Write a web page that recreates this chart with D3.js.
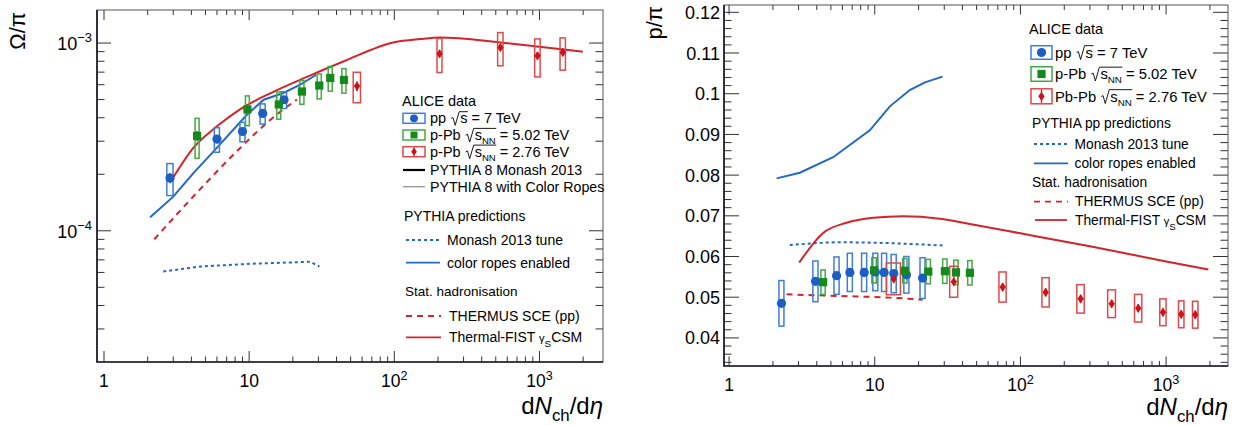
<!DOCTYPE html>
<html>
<head>
<meta charset="utf-8">
<script src="https://cdn.jsdelivr.net/npm/d3@7"></script>
<style>
  html, body { margin: 0; padding: 0; background: #fff; }
  svg { display: block; font-family: "Liberation Sans", Arial, Helvetica, sans-serif; }
  svg text { white-space: pre; }
</style>
</head>
<body>
<svg id="chart" width="1242" height="425"></svg>
<script>
// ---------------- Ω/π versus dNch/dη ----------------
const omPP_dN    = [2.85, 6.0, 9.0, 12.4, 17.4];
const omPP_dNerr = [0.14, 0.24, 0.36, 0.5, 0.7];
const omPP_val   = [1.91e-4, 3.08e-4, 3.38e-4, 4.22e-4, 4.99e-4];
const omPP_stat  = [0.12e-4, 0.15e-4, 0.15e-4, 0.18e-4, 0.2e-4];
const omPP_sys   = [0.37e-4, 0.46e-4, 0.40e-4, 0.52e-4, 0.51e-4];

const omPPb_dN    = [4.38, 9.73, 16.0, 23.1, 30.4, 36.2, 45.0];
const omPPb_dNerr = [0.14, 0.3, 0.5, 0.75, 1.0, 1.15, 1.45];
const omPPb_val   = [3.2e-4, 4.43e-4, 4.71e-4, 5.52e-4, 5.94e-4, 6.52e-4, 6.36e-4];
const omPPb_stat  = [0.2e-4, 0.2e-4, 0.2e-4, 0.2e-4, 0.22e-4, 0.25e-4, 0.25e-4];
const omPPb_sys   = [0.77e-4, 0.8e-4, 0.78e-4, 0.8e-4, 0.9e-4, 0.98e-4, 0.95e-4];

const omPbPb_dN    = [55.3, 205, 538, 969, 1448];
const omPbPb_dNerr = [3.2, 8, 23, 42, 62];
const omPbPb_val   = [5.9e-4, 8.77e-4, 9.47e-4, 8.56e-4, 8.91e-4];
const omPbPb_stat  = [0.35e-4, 0.4e-4, 0.4e-4, 0.4e-4, 0.4e-4];
const omPbPb_sys   = [1.09e-4, 1.8e-4, 1.9e-4, 1.96e-4, 1.74e-4];

const omFist_dN  = [2.97, 4.1, 6.0, 8.7, 14.7, 25, 45, 100, 150, 207, 538, 960, 1990];
const omFist_val = [1.9e-4, 2.75e-4, 3.6e-4, 4.45e-4, 5.5e-4, 6.6e-4, 8.0e-4, 1.01e-3, 1.05e-3, 1.07e-3, 1.007e-3, 9.6e-4, 9.0e-4];
const omRopes_dN  = [2.08, 3.0, 4.13, 5.67, 9.64, 12.6, 17.2, 22.5, 29.0];
const omRopes_val = [1.18e-4, 1.52e-4, 2.03e-4, 2.64e-4, 4.15e-4, 4.99e-4, 5.42e-4, 6.0e-4, 6.78e-4];
const omMonash_dN  = [2.56, 4.59, 10.2, 22.5, 26.3, 30.5];
const omMonash_val = [6.07e-5, 6.45e-5, 6.67e-5, 6.81e-5, 6.84e-5, 6.45e-5];
const omThermus_dN  = [2.22, 3.92, 8.67, 14.0, 21.3];
const omThermus_val = [9.0e-5, 1.46e-4, 2.76e-4, 3.9e-4, 5.0e-4];

// ---------------- p/π versus dNch/dη ----------------
const prPP_dN    = [2.29, 3.92, 5.47, 6.75, 8.46, 10.1, 11.6, 13.5, 16.5, 21.3];
const prPP_dNerr = [0.09, 0.16, 0.22, 0.27, 0.34, 0.4, 0.46, 0.54, 0.66, 0.85];
const prPP_val   = [0.0485, 0.0539, 0.0553, 0.0561, 0.0561, 0.0562, 0.0561, 0.0558, 0.0555, 0.0547];
const prPP_stat  = [0.0006, 0.0004, 0.0003, 0.0003, 0.0003, 0.0003, 0.0003, 0.0003, 0.0003, 0.0004];
const prPP_sys   = [0.0056, 0.005, 0.0046, 0.0047, 0.0047, 0.0046, 0.0047, 0.0047, 0.0045, 0.005];

const prPPb_dN    = [4.42, 9.9, 16.1, 23.3, 30.3, 36.1, 45.0];
const prPPb_dNerr = [0.15, 0.35, 0.55, 0.8, 1.05, 1.25, 1.55];
const prPPb_val   = [0.0537, 0.0566, 0.0565, 0.0563, 0.0564, 0.0561, 0.0560];
const prPPb_stat  = [0.0008, 0.0008, 0.0008, 0.0008, 0.0008, 0.0008, 0.0008];
const prPPb_sys   = [0.003, 0.0031, 0.003, 0.003, 0.003, 0.003, 0.003];

const prPbPb_dN    = [13.5, 34.9, 75.5, 149, 259, 423, 644, 952, 1271, 1586];
const prPbPb_dNerr = [1.5, 2.2, 4.3, 8.5, 15, 26, 37, 47, 55, 68];
const prPbPb_val   = [0.0545, 0.0538, 0.0525, 0.0512, 0.0496, 0.0484, 0.0473, 0.0463, 0.0458, 0.0457];
const prPbPb_stat  = [0.001, 0.001, 0.001, 0.001, 0.001, 0.001, 0.001, 0.001, 0.001, 0.001];
const prPbPb_sys   = [0.0039, 0.0038, 0.0037, 0.0036, 0.0035, 0.0034, 0.0034, 0.0033, 0.0033, 0.0033];

const prFist_dN  = [3.03, 4.42, 6.4, 9.75, 15.7, 28, 45, 100, 300, 1000, 1950];
const prFist_val = [0.0585, 0.0658, 0.0683, 0.0695, 0.0699, 0.0693, 0.0680, 0.0657, 0.0625, 0.0588, 0.0568];
const prRopes_dN  = [2.12, 3.06, 5.18, 9.25, 12.7, 17.4, 22.1, 29.2];
const prRopes_val = [0.0792, 0.0806, 0.0844, 0.0910, 0.0969, 0.1009, 0.1028, 0.1042];
const prMonash_dN  = [2.61, 5.76, 9.75, 29.5];
const prMonash_val = [0.0628, 0.0635, 0.0634, 0.0627];
const prThermus_dN  = [2.48, 5.76, 12.7, 21.3];
const prThermus_val = [0.0507, 0.0503, 0.0499, 0.0494];

// ---------------- axes ----------------
const xMajor = [1, 10, 100, 1000];
const xMajorLabels = [["1", ""], ["10", ""], ["10", "2"], ["10", "3"]];
const omYMajor = [1e-4, 1e-3];
const omYMajorLabels = [["10", "\u22124"], ["10", "\u22123"]];
const prYMajor = [0.04, 0.05, 0.06, 0.07, 0.08, 0.09, 0.10, 0.11, 0.12];
const prYMajorLabels = ["0.04", "0.05", "0.06", "0.07", "0.08", "0.09", "0.1", "0.11", "0.12"];

// ---------------- colours ----------------
const C = {
  blue: "#1c5ec2", blueBox: "#3f7fd3", blueLine: "#2268c8",
  green: "#14891c", greenBox: "#45a845",
  red: "#c9141d", redBox: "#de4a4a", redLine: "#d3232b"
};

const svg = d3.select("#chart");

// Scales for the two panels
const xL = d3.scaleLog().domain([0.895, 2740]).range([97, 603]);
const yL = d3.scaleLog().domain([2e-5, 1.5e-3]).range([362, 10]);
const xR = d3.scaleLog().domain([0.923, 2660]).range([724, 1228]);
const yR = d3.scaleLinear().domain([0.0331, 0.1218]).range([366, 5]);

// Text made of pieces: sub/superscripts, italics and a drawn radical sign
function richText(parent, x, y, parts, o = {}) {
  const size = o.size || 14, fill = o.fill || "#000";
  const g = parent.append("g");
  const inner = g.append("g");
  let cx = x;
  const placed = [];
  for (const p of parts) {
    if (p.gap) { placed.push({ x0: cx, x1: cx + p.gap, p }); cx += p.gap; continue; }
    const fs = p.scale ? size * p.scale : size;
    const t = inner.append("text")
      .attr("x", cx).attr("y", y + (p.dy || 0) * size)
      .attr("font-size", fs).attr("fill", fill)
      .attr("font-style", p.italic ? "italic" : null)
      .text(p.t);
    const w = t.node().getComputedTextLength();
    placed.push({ x0: cx, x1: cx + w, p });
    cx += w + (p.after || 0);
  }
  const rad = placed.find(d => d.p.rad);
  const rooted = placed.filter(d => d.p.root);
  if (rad && rooted.length) {
    const xe = d3.max(rooted, d => d.x1) + 0.5;
    const top = y - size * 0.8;
    inner.append("path")
      .attr("d", `M${rad.x0 + 1},${y - size * 0.33} L${rad.x0 + 2.8},${y - size * 0.4} L${rad.x0 + 5},${y + 2} L${rad.x1 - 1},${top} L${xe},${top}`)
      .attr("fill", "none").attr("stroke", fill).attr("stroke-width", 0.9);
  }
  const w = cx - x;
  if (o.anchor === "end") inner.attr("transform", `translate(${-w},0)`);
  if (o.anchor === "middle") inner.attr("transform", `translate(${-w / 2},0)`);
  return g;
}

function sup(base, exp, expScale = 0.72) {
  return exp ? [{ t: base }, { t: exp, scale: expScale, dy: -0.42 }] : [{ t: base }];
}

// Frame with inward ticks on all four sides
function drawFrame(X, Y, o) {
  const g = svg.append("g");
  const [x0, x1] = X.range();
  const [yb, yt] = Y.range();
  const tick = (x1_, y1_, x2_, y2_) => g.append("line")
    .attr("x1", x1_).attr("y1", y1_).attr("x2", x2_).attr("y2", y2_)
    .attr("stroke", "#333").attr("stroke-width", 1);
  o.xTicks.forEach(t => {
    const px = X(t.v);
    if (px <= x0 + 1 || px >= x1 - 1) return;
    tick(px, yb, px, yb - (t.major ? o.xMaj : o.xMin));
    tick(px, yt, px, yt + (t.major ? o.xMajTop : o.xMinTop));
  });
  o.yTicks.forEach(t => {
    const py = Y(t.v);
    if (py >= yb - 1 || py <= yt + 1) return;
    tick(x0, py, x0 + (t.major ? o.yMaj : o.yMin), py);
    tick(x1, py, x1 - (t.major ? o.yMaj : o.yMin), py);
  });
  g.append("rect").attr("x", x0).attr("y", yt).attr("width", x1 - x0).attr("height", yb - yt)
    .attr("fill", "none").attr("stroke", "#555").attr("stroke-width", 1);
  g.append("path").attr("d", `M${x0},${yt} V${yb} H${x1}`)
    .attr("fill", "none").attr("stroke", "#1d1d2b").attr("stroke-width", 1.7);
  return g;
}

function logTicks(lo, hi) {
  const out = [];
  for (let k = Math.floor(Math.log10(lo)); k <= Math.ceil(Math.log10(hi)); k++) {
    for (let m = 1; m <= 9; m++) {
      const v = m * Math.pow(10, k);
      if (v >= lo && v <= hi) out.push({ v, major: m === 1 });
    }
  }
  return out;
}

function clipFor(id, X, Y) {
  const [x0, x1] = X.range(), [yb, yt] = Y.range();
  svg.append("clipPath").attr("id", id).append("rect")
    .attr("x", x0).attr("y", yt).attr("width", x1 - x0).attr("height", yb - yt);
  return svg.append("g").attr("clip-path", `url(#${id})`);
}

function drawCurve(g, X, Y, xs, ys, color, dash, curve, width = 2) {
  const pts = xs.map((x, i) => [x, ys[i]]);
  g.append("path")
    .attr("d", d3.line().x(d => X(d[0])).y(d => Y(d[1])).curve(curve)(pts))
    .attr("fill", "none").attr("stroke", color).attr("stroke-width", width)
    .attr("stroke-dasharray", dash);
}

function drawMarker(g, type, cx, cy, color, s = 1) {
  if (type === "circle") {
    g.append("circle").attr("cx", cx).attr("cy", cy).attr("r", 4.6 * s).attr("fill", color);
  } else if (type === "square") {
    const h = 4.1 * s;
    g.append("rect").attr("x", cx - h).attr("y", cy - h).attr("width", 2 * h).attr("height", 2 * h).attr("fill", color);
  } else {
    const w = 3.2 * s, h = 4.6 * s;
    g.append("path").attr("d", `M${cx},${cy - h} L${cx + w},${cy} L${cx},${cy + h} L${cx - w},${cy} Z`).attr("fill", color);
  }
}

function drawSeries(gBox, gMark, X, Y, dn, dnErr, val, stat, sys, boxColor, color, marker) {
  dn.forEach((x, i) => {
    const xa = X(x - dnErr[i]), xb = X(x + dnErr[i]);
    const ya = Y(val[i] + sys[i]), yb = Y(val[i] - sys[i]);
    gBox.append("rect").attr("x", xa).attr("y", ya).attr("width", xb - xa).attr("height", yb - ya)
      .attr("fill", "none").attr("stroke", boxColor).attr("stroke-width", 1.5);
  });
  dn.forEach((x, i) => {
    gMark.append("line").attr("x1", X(x)).attr("x2", X(x))
      .attr("y1", Y(val[i] - stat[i])).attr("y2", Y(val[i] + stat[i]))
      .attr("stroke", color).attr("stroke-width", 1.6);
    drawMarker(gMark, marker, X(x), Y(val[i]), color);
  });
}

const dNdEtaTitle = [{ t: "d" }, { t: "N", italic: true }, { t: "ch", scale: 0.7, dy: 0.3 }, { t: "/d" }, { t: "\u03B7", italic: true }];

// ================= left panel: Ω/π =================
drawFrame(xL, yL, {
  xTicks: logTicks(1, 3000), yTicks: logTicks(2e-5, 1.5e-3),
  xMaj: 11, xMin: 5.5, xMajTop: 10, xMinTop: 5, yMaj: 14, yMin: 7.5
});
const gL = clipFor("clipL", xL, yL);
drawCurve(gL, xL, yL, omMonash_dN, omMonash_val, C.blueLine, "3,3", d3.curveLinear);
drawCurve(gL, xL, yL, omRopes_dN, omRopes_val, C.blueLine, null, d3.curveLinear);
drawCurve(gL, xL, yL, omThermus_dN, omThermus_val, C.redLine, "6,5", d3.curveMonotoneX);
drawCurve(gL, xL, yL, omFist_dN, omFist_val, C.redLine, null, d3.curveMonotoneX);
const gLbox = gL.append("g"), gLmark = gL.append("g");
drawSeries(gLbox, gLmark, xL, yL, omPP_dN, omPP_dNerr, omPP_val, omPP_stat, omPP_sys, C.blueBox, C.blue, "circle");
drawSeries(gLbox, gLmark, xL, yL, omPPb_dN, omPPb_dNerr, omPPb_val, omPPb_stat, omPPb_sys, C.greenBox, C.green, "square");
drawSeries(gLbox, gLmark, xL, yL, omPbPb_dN, omPbPb_dNerr, omPbPb_val, omPbPb_stat, omPbPb_sys, C.redBox, C.red, "diamond");

// tick labels
xMajor.forEach((v, i) => richText(svg, xL(v), 387, sup(...xMajorLabels[i]), { size: 17.5, anchor: "middle" }));
omYMajor.forEach((v, i) => richText(svg, 92, yL(v) + 7, sup(...omYMajorLabels[i]), { size: 18, anchor: "end" }));

// axis titles
richText(svg.append("g").attr("transform", "translate(25,12) rotate(-90)"), 0, 0,
  [{ t: "\u03A9/\u03C0" }], { size: 22, anchor: "end" });
richText(svg, 603, 414, dNdEtaTitle, { size: 24, anchor: "end" });

// legend
function legendBox(g, x, y, w, h, boxColor, color, marker, s) {
  g.append("rect").attr("x", x).attr("y", y - h / 2).attr("width", w).attr("height", h)
    .attr("fill", "none").attr("stroke", boxColor).attr("stroke-width", 1.5);
  if (marker === "diamond") {
    g.append("line").attr("x1", x + w / 2).attr("x2", x + w / 2).attr("y1", y - h / 2 + 1).attr("y2", y + h / 2 - 1)
      .attr("stroke", color).attr("stroke-width", 1.4);
  }
  drawMarker(g, marker, x + w / 2, y, color, s);
}
function legendLine(g, x1, x2, y, color, dash, width = 1.8) {
  g.append("line").attr("x1", x1).attr("x2", x2).attr("y1", y).attr("y2", y)
    .attr("stroke", color).attr("stroke-width", width).attr("stroke-dasharray", dash);
}
const ppLabel = [{ t: "pp " }, { gap: 10, rad: true }, { t: "s", root: true }, { t: " = 7 TeV" }];
const sqrtNN = [{ gap: 10, rad: true }, { t: "s", root: true }, { t: "NN", scale: 0.66, dy: 0.3, root: true }];

const lg = svg.append("g");
richText(lg, 402, 106, [{ t: "ALICE data" }], { size: 14.5 });
legendBox(lg, 403, 118.3, 22, 10, C.blueBox, C.blue, "circle", 0.85);
richText(lg, 430, 123.3, ppLabel, { size: 14.5 });
legendBox(lg, 403, 135, 22, 10, C.greenBox, C.green, "square", 0.85);
richText(lg, 430, 140, [{ t: "p-Pb " }, ...sqrtNN, { t: " = 5.02 TeV" }], { size: 14.5 });
legendBox(lg, 403, 151.7, 22, 10, C.redBox, C.red, "diamond", 0.9);
richText(lg, 430, 156.7, [{ t: "p-Pb " }, ...sqrtNN, { t: " = 2.76 TeV" }], { size: 14.5 });
legendLine(lg, 403, 425, 170, "#000", null, 2.2);
richText(lg, 430, 175, [{ t: "PYTHIA 8 Monash 2013" }], { size: 14.2 });
legendLine(lg, 403, 425, 186.7, "#8a8a8a", null, 1.2);
richText(lg, 430, 191.7, [{ t: "PYTHIA 8 with Color Ropes" }], { size: 14.2 });

richText(lg, 404, 221, [{ t: "PYTHIA predictions" }], { size: 14 });
legendLine(lg, 406, 440, 240, C.blueLine, "3,3");
richText(lg, 447, 245, [{ t: "Monash 2013 tune" }], { size: 14 });
legendLine(lg, 406, 440, 262.7, C.blueLine, null);
richText(lg, 447, 267.7, [{ t: "color ropes enabled" }], { size: 14 });
richText(lg, 405, 295.5, [{ t: "Stat. hadronisation" }], { size: 13.5 });
legendLine(lg, 406, 441, 316, C.redLine, "6,5");
richText(lg, 449, 321, [{ t: "THERMUS SCE (pp)" }], { size: 14 });
legendLine(lg, 406, 441, 337.3, C.redLine, null);
richText(lg, 449, 342, [{ t: "Thermal-FIST " }, { t: "\u03B3", scale: 0.8 }, { t: "S", scale: 0.7, dy: 0.35 }, { t: "CSM" }], { size: 14 });

// ================= right panel: p/π =================
const prYTicks = d3.range(34, 122 + 1, 2).map(k => ({ v: k / 1000, major: k % 10 === 0 }));
drawFrame(xR, yR, {
  xTicks: logTicks(1, 3000), yTicks: prYTicks,
  xMaj: 9.5, xMin: 5, xMajTop: 9.5, xMinTop: 5, yMaj: 15, yMin: 7.5
});
const gR = clipFor("clipR", xR, yR);
drawCurve(gR, xR, yR, prRopes_dN, prRopes_val, C.blueLine, null, d3.curveLinear);
drawCurve(gR, xR, yR, prMonash_dN, prMonash_val, C.blueLine, "3,3", d3.curveMonotoneX);
drawCurve(gR, xR, yR, prThermus_dN, prThermus_val, C.redLine, "6,5", d3.curveMonotoneX);
drawCurve(gR, xR, yR, prFist_dN, prFist_val, C.redLine, null, d3.curveMonotoneX);
const gRbox = gR.append("g"), gRmark = gR.append("g");
drawSeries(gRbox, gRmark, xR, yR, prPP_dN, prPP_dNerr, prPP_val, prPP_stat, prPP_sys, C.blueBox, C.blue, "circle");
drawSeries(gRbox, gRmark, xR, yR, prPPb_dN, prPPb_dNerr, prPPb_val, prPPb_stat, prPPb_sys, C.greenBox, C.green, "square");
drawSeries(gRbox, gRmark, xR, yR, prPbPb_dN, prPbPb_dNerr, prPbPb_val, prPbPb_stat, prPbPb_sys, C.redBox, C.red, "diamond");

xMajor.forEach((v, i) => richText(svg, xR(v), 391, sup(...xMajorLabels[i]), { size: 17.5, anchor: "middle" }));
prYMajor.forEach((v, i) => richText(svg, 720, yR(v) + 6.5, [{ t: prYMajorLabels[i] }], { size: 18, anchor: "end" }));

richText(svg.append("g").attr("transform", "translate(662,6) rotate(-90)"), 0, 0,
  [{ t: "p/\u03C0" }], { size: 22, anchor: "end" });
richText(svg, 1228, 415, dNdEtaTitle, { size: 24, anchor: "end" });

const rg = svg.append("g");
richText(rg, 1029, 33.5, [{ t: "ALICE data" }], { size: 14.5 });
legendBox(rg, 1031, 52.5, 21, 13.5, C.blueBox, C.blue, "circle", 1);
richText(rg, 1055, 57.5, ppLabel, { size: 14.8 });
legendBox(rg, 1031, 74, 21, 14.5, C.greenBox, C.green, "square", 1);
richText(rg, 1055, 79, [{ t: "p-Pb " }, ...sqrtNN, { t: " = 5.02 TeV" }], { size: 14.8 });
legendBox(rg, 1031, 96.3, 21, 15, C.redBox, C.red, "diamond", 1);
richText(rg, 1055, 101.5, [{ t: "Pb-Pb " }, ...sqrtNN, { t: " = 2.76 TeV" }], { size: 14.8 });
richText(rg, 1032, 128, [{ t: "PYTHIA pp predictions" }], { size: 13.8 });
legendLine(rg, 1034, 1068, 144, C.blueLine, "3,3");
richText(rg, 1074.5, 148.5, [{ t: "Monash 2013 tune" }], { size: 13.8 });
legendLine(rg, 1034, 1068, 163.3, C.blueLine, null);
richText(rg, 1074.5, 167.8, [{ t: "color ropes enabled" }], { size: 13.8 });
richText(rg, 1032, 186.5, [{ t: "Stat. hadronisation" }], { size: 13.8 });
legendLine(rg, 1034, 1068, 201.7, C.redLine, "6,5");
richText(rg, 1075, 206.2, [{ t: "THERMUS SCE (pp)" }], { size: 13.8 });
legendLine(rg, 1035, 1067, 220, C.redLine, null);
richText(rg, 1075, 224.7, [{ t: "Thermal-FIST " }, { t: "\u03B3", scale: 0.8 }, { t: "S", scale: 0.7, dy: 0.35 }, { t: "CSM" }], { size: 13.8 });
</script>
</body>
</html>
